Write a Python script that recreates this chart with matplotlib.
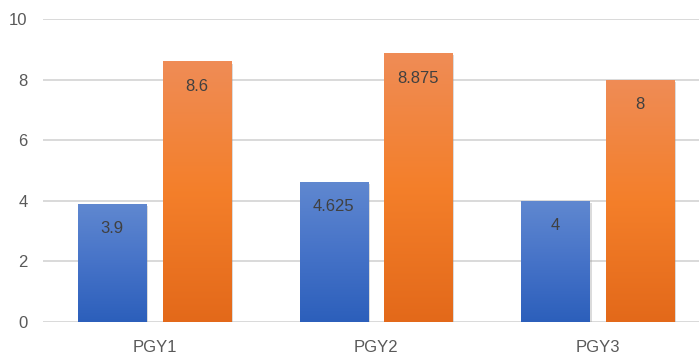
import matplotlib
matplotlib.use("Agg")
import matplotlib.pyplot as plt
import numpy as np
from matplotlib.colors import LinearSegmentedColormap
import matplotlib.patheffects as pe

categories = ["PGY1", "PGY2", "PGY3"]
series_a = [3.9, 4.625, 4]
series_b = [8.6, 8.875, 8]
labels_a = ["3.9", "4.625", "4"]
labels_b = ["8.6", "8.875", "8"]
yticks = [0, 2, 4, 6, 8, 10]

plt.rcParams['font.family'] = ['Liberation Sans', 'DejaVu Sans']

W, H = 699, 360
fig = plt.figure(figsize=(W / 100, H / 100), dpi=100)
ax = fig.add_axes([43 / W, 38 / H, 1 - 43 / W, 303 / H])

x = np.arange(len(categories))
width = 0.307
off = 0.19

cmap_a = LinearSegmentedColormap.from_list("a", ["#2c5fbb", "#4673c8", "#6088d0"])
cmap_b = LinearSegmentedColormap.from_list("b", ["#e3691a", "#f47f2a", "#ef8c56"])

shadow = [pe.SimplePatchShadow(offset=(1.5, -1.5), shadow_rgbFace="#9a9a9a", alpha=0.35), pe.Normal()]

bars_a = ax.bar(x - off, series_a, width, color="#4472c4", zorder=3, path_effects=shadow)
bars_b = ax.bar(x + off, series_b, width, color="#ed7d31", zorder=3, path_effects=shadow)

grad = np.linspace(0, 1, 256).reshape(-1, 1)
for bars, cmap in ((bars_a, cmap_a), (bars_b, cmap_b)):
    for r in bars:
        x0, y0 = r.get_x(), r.get_y()
        im = ax.imshow(grad, extent=[x0, x0 + r.get_width(), y0, y0 + r.get_height()],
                       aspect="auto", cmap=cmap, origin="lower", zorder=4, interpolation="bilinear")
        im.set_clip_path(r)

for bars, labs in ((bars_a, labels_a), (bars_b, labels_b)):
    for r, lab in zip(bars, labs):
        ax.annotate(lab, (r.get_x() + r.get_width() / 2, r.get_height()),
                    xytext=(0, -25), textcoords="offset pixels",
                    ha="center", va="center", fontsize=12, color="#404040", zorder=5)

ax.set_xlim(-0.503, 2.458)
ax.set_ylim(0, 10)
ax.set_yticks(yticks)
ax.set_xticks(x)
ax.set_xticklabels(categories)
ax.grid(axis="y", color="#d9d9d9", linewidth=1.4, zorder=0)
ax.set_axisbelow(True)
for s in ax.spines.values():
    s.set_visible(False)
ax.tick_params(axis="both", length=0, labelsize=12, labelcolor="#595959")
ax.tick_params(axis="y", pad=11)
ax.tick_params(axis="x", pad=13)

fig.savefig("out.png", dpi=100)
